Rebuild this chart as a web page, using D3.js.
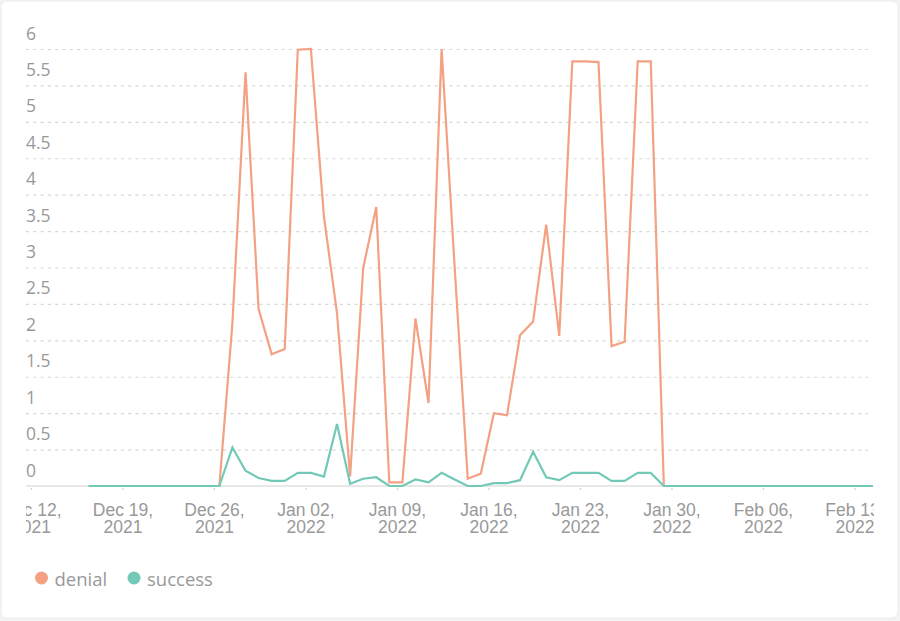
<!DOCTYPE html>
<html>
<head>
<meta charset="utf-8">
<script src="https://cdn.jsdelivr.net/npm/d3@7"></script>
<style>
  html, body { margin: 0; padding: 0; background: #f3f3f3; }
  svg { display: block; font-family: "Open Sans", sans-serif; }
</style>
</head>
<body>
<svg id="chart" width="900" height="621"></svg>
<script>
// ---- data ----
const startDate = "2021-12-16T10:00:00";
const seriesNames = ["denial", "success"];
const seriesColors = ["#F3A182", "#72C9B8"];
const denial = [
  0, 0, 0, 0, 0, 0, 0, 0, 0, 0, 0,
  2.24, 5.68, 2.43, 1.81, 1.88, 5.99, 6.0, 3.70, 2.37, 0.13,
  2.99, 3.83, 0.05, 0.05, 2.30, 1.14, 6.0, 3.0, 0.10, 0.17,
  1.0, 0.97, 2.07, 2.26, 3.59, 2.06, 5.83, 5.83, 5.82, 1.92,
  1.98, 5.83, 5.83, 0,
  0, 0, 0, 0, 0, 0, 0, 0, 0, 0, 0, 0, 0, 0, 0, 0
];
const success = [
  0, 0, 0, 0, 0, 0, 0, 0, 0, 0, 0,
  0.53, 0.21, 0.11, 0.07, 0.07, 0.18, 0.18, 0.13, 0.85, 0.03,
  0.10, 0.12, 0, 0, 0.09, 0.05, 0.18, 0.09, 0, 0,
  0.04, 0.04, 0.08, 0.47, 0.12, 0.08, 0.18, 0.18, 0.18, 0.07,
  0.07, 0.18, 0.18, 0,
  0, 0, 0, 0, 0, 0, 0, 0, 0, 0, 0, 0, 0, 0, 0, 0
];
const yTicks = [0, 0.5, 1, 1.5, 2, 2.5, 3, 3.5, 4, 4.5, 5, 5.5, 6];
const xTickDates = ["2021-12-12", "2021-12-19", "2021-12-26", "2022-01-02", "2022-01-09",
                    "2022-01-16", "2022-01-23", "2022-01-30", "2022-02-06", "2022-02-13"];
const xDomain = ["2021-12-11T15:00:00", "2022-02-14T10:00:00"];

// ---- layout ----
const svg = d3.select("#chart");
const pLeft = 26, pRight = 873, pTop = 49, pBottom = 486, gridRight = 868;
const textColor = "#999999";

svg.append("rect").attr("x", 1).attr("y", 1).attr("width", 897).attr("height", 617)
  .attr("rx", 6).attr("fill", "#fff").attr("stroke", "#ececec");

const parse = s => new Date(s + (s.length === 10 ? "T00:00:00" : ""));
const dates = denial.map((_, i) => d3.timeDay.offset(new Date(startDate), i));

const x = d3.scaleTime().domain(xDomain.map(parse)).range([pLeft, pRight]);
const y = d3.scaleLinear().domain([0, 6]).range([pBottom, pTop]);

// grid
const gridG = svg.append("g").attr("transform", `translate(${pLeft},0)`)
  .call(d3.axisLeft(y).tickValues(yTicks.filter(d => d > 0)).tickSize(-(gridRight - pLeft)).tickFormat(""));
gridG.select(".domain").remove();
gridG.selectAll(".tick line").attr("stroke", "#d6d6d6").attr("stroke-dasharray", "3,4.3").attr("stroke-width", 1.2);

// y labels
const yLab = svg.append("g");
yLab.selectAll("text").data(yTicks).join("text")
  .attr("x", pLeft).attr("y", d => y(d) - 9.5)
  .attr("fill", textColor).attr("font-size", 17.5)
  .text(d => d3.format("~g")(d));

// x axis
svg.append("defs").append("clipPath").attr("id", "xclip")
  .append("rect").attr("x", pLeft).attr("y", 0).attr("width", pRight - pLeft + 1).attr("height", 60);

const fmt1 = d3.timeFormat("%b %d,");
const fmt2 = d3.timeFormat("%Y");
const xAxisG = svg.append("g").attr("transform", `translate(0,${pBottom})`)
  .call(d3.axisBottom(x).tickValues(xTickDates.map(parse)).tickSize(0).tickFormat(""));
xAxisG.attr("clip-path", "url(#xclip)");
xAxisG.select(".domain").remove();
xAxisG.selectAll(".tick").each(function(d) {
  const t = d3.select(this);
  t.append("line").attr("y1", 2).attr("y2", 11).attr("stroke", "#cfcfcf")
    .attr("stroke-dasharray", "2,7").attr("stroke-width", 1.2);
  t.append("text").attr("fill", textColor).attr("font-size", 17.5)
    .attr("text-anchor", "middle").attr("x", 0).attr("y", 29.5).text(fmt1(d));
  t.append("text").attr("fill", textColor).attr("font-size", 17.5)
    .attr("text-anchor", "middle").attr("x", 0).attr("y", 47).text(fmt2(d));
});
svg.append("line").attr("x1", pLeft).attr("x2", pRight).attr("y1", pBottom).attr("y2", pBottom)
  .attr("stroke", "#e0e0e0").attr("stroke-width", 1.5);

// lines
const seriesData = [denial, success];
const line = d3.line().x((d, i) => x(dates[i])).y(d => y(d));
seriesData.forEach((vals, k) => {
  svg.append("path").datum(vals).attr("d", line)
    .attr("fill", "none").attr("stroke", seriesColors[k]).attr("stroke-width", 2.2)
    .attr("stroke-linejoin", "miter");
});

// legend
const legendX = [41.5, 134];
const lg = svg.append("g");
seriesNames.forEach((n, k) => {
  lg.append("circle").attr("cx", legendX[k]).attr("cy", 578).attr("r", 6.5).attr("fill", seriesColors[k]);
  lg.append("text").attr("x", legendX[k] + 13).attr("y", 586).attr("fill", textColor)
    .attr("font-size", 18.5).text(n);
});
</script>
</body>
</html>
